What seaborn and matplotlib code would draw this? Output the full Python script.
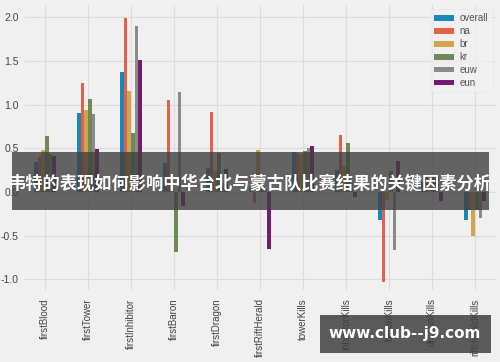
import matplotlib
matplotlib.use("Agg")
import matplotlib.pyplot as plt
import seaborn as sns
import pandas as pd
from matplotlib.patches import Rectangle

categories = ["firstBlood", "firstTower", "firstInhibitor", "firstBaron", "firstDragon",
              "firstRiftHerald", "towerKills", "inhibitorKills", "baronKills",
              "dragonKills", "riftHeraldKills"]
series_names = ["overall", "na", "br", "kr", "euw", "eun"]
overall = [0.34, 0.90, 1.37, 0.33, 0.27, 0.05, 0.46, 0.25, -0.32, 0.12, -0.32]
na      = [0.40, 1.25, 1.99, 1.05, 0.92, -0.12, 0.45, 0.65, -1.03, 0.19, -0.20]
br      = [0.48, 0.94, 1.16, 0.03, 0.24, 0.48, 0.44, 0.30, -0.09, 0.15, -0.50]
kr      = [0.64, 1.06, 0.68, -0.69, 0.45, 0.04, 0.47, 0.56, 0.24, 0.20, -0.21]
euw     = [0.44, 0.89, 1.90, 1.14, 0.10, 0.03, 0.51, 0.10, -0.66, 0.17, -0.30]
eun     = [0.41, 0.49, 1.51, -0.16, 0.26, -0.65, 0.53, -0.06, 0.35, -0.10, -0.10]
colors = ["#008fd5", "#fc4f30", "#e5ae38", "#6d904f", "#8b8b8b", "#810f7c"]
title_text = "韦特的表现如何影响中华台北与蒙古队比赛结果的关键因素分析"
watermark = "www.club--j9.com"

values = [overall, na, br, kr, euw, eun]
rows = []
for name, vals in zip(series_names, values):
    for c, v in zip(categories, vals):
        rows.append({"feature": c, "region": name, "value": v})
df = pd.DataFrame(rows)

plt.style.use("fivethirtyeight")
plt.rcParams["font.family"] = ["Liberation Sans", "DejaVu Sans"]
fig = plt.figure(figsize=(5, 3.62), dpi=100)
ax = fig.add_axes([0.047, 0.199, 0.946, 0.787])
sns.barplot(data=df, x="feature", y="value", hue="region", order=categories,
            hue_order=series_names, palette=colors, width=0.5, linewidth=0,
            errorbar=None, ax=ax)
ax.set_xlim(-0.5, len(categories) - 0.5)
ax.set_ylim(-1.12, 2.14)
ax.set_yticks([-1.0, -0.5, 0.0, 0.5, 1.0, 1.5, 2.0])
ax.set_yticklabels(["-1.0", "-0.5", "0.0", "0.5", "1.0", "1.5", "2.0"])
ax.set_xlabel("")
ax.set_ylabel("")
ax.tick_params(axis="x", labelrotation=90, labelsize=7, colors="#444444", pad=6)
ax.tick_params(axis="y", labelsize=7.5, colors="#444444")
ax.grid(True, color="#dcdcdc", linewidth=0.8)
ax.set_axisbelow(True)
for s in ax.spines.values():
    s.set_visible(False)
leg = ax.legend(loc="upper right", fontsize=7, frameon=True, handlelength=2.0,
                borderpad=0.45, labelspacing=0.3, handleheight=0.55, handletextpad=0.6,
                borderaxespad=0.4)
leg.get_frame().set_facecolor("#f0f0f0")
leg.get_frame().set_edgecolor("#e4e4e4")
for t in leg.get_texts():
    t.set_color("#555555")

fig.patches.append(Rectangle((0.024, 0.42), 0.954, 0.16, transform=fig.transFigure,
                             facecolor="#404040", alpha=0.8, edgecolor="none", zorder=10))
fig.text(0.5, 0.492, title_text, ha="center", va="center", color="white",
         fontsize=12.4, fontweight="bold", family=["Noto Sans CJK SC", "DejaVu Sans"], zorder=11)
fig.patches.append(Rectangle((0.64, 0.025), 0.342, 0.105, transform=fig.transFigure,
                             facecolor="#404040", alpha=0.85, edgecolor="none", zorder=10))
fig.text(0.81, 0.078, watermark, ha="center", va="center", color="white",
         fontsize=11, fontweight="bold", family="DejaVu Sans", zorder=11)

fig.savefig("out.png", dpi=100, facecolor="#f0f0f0")
